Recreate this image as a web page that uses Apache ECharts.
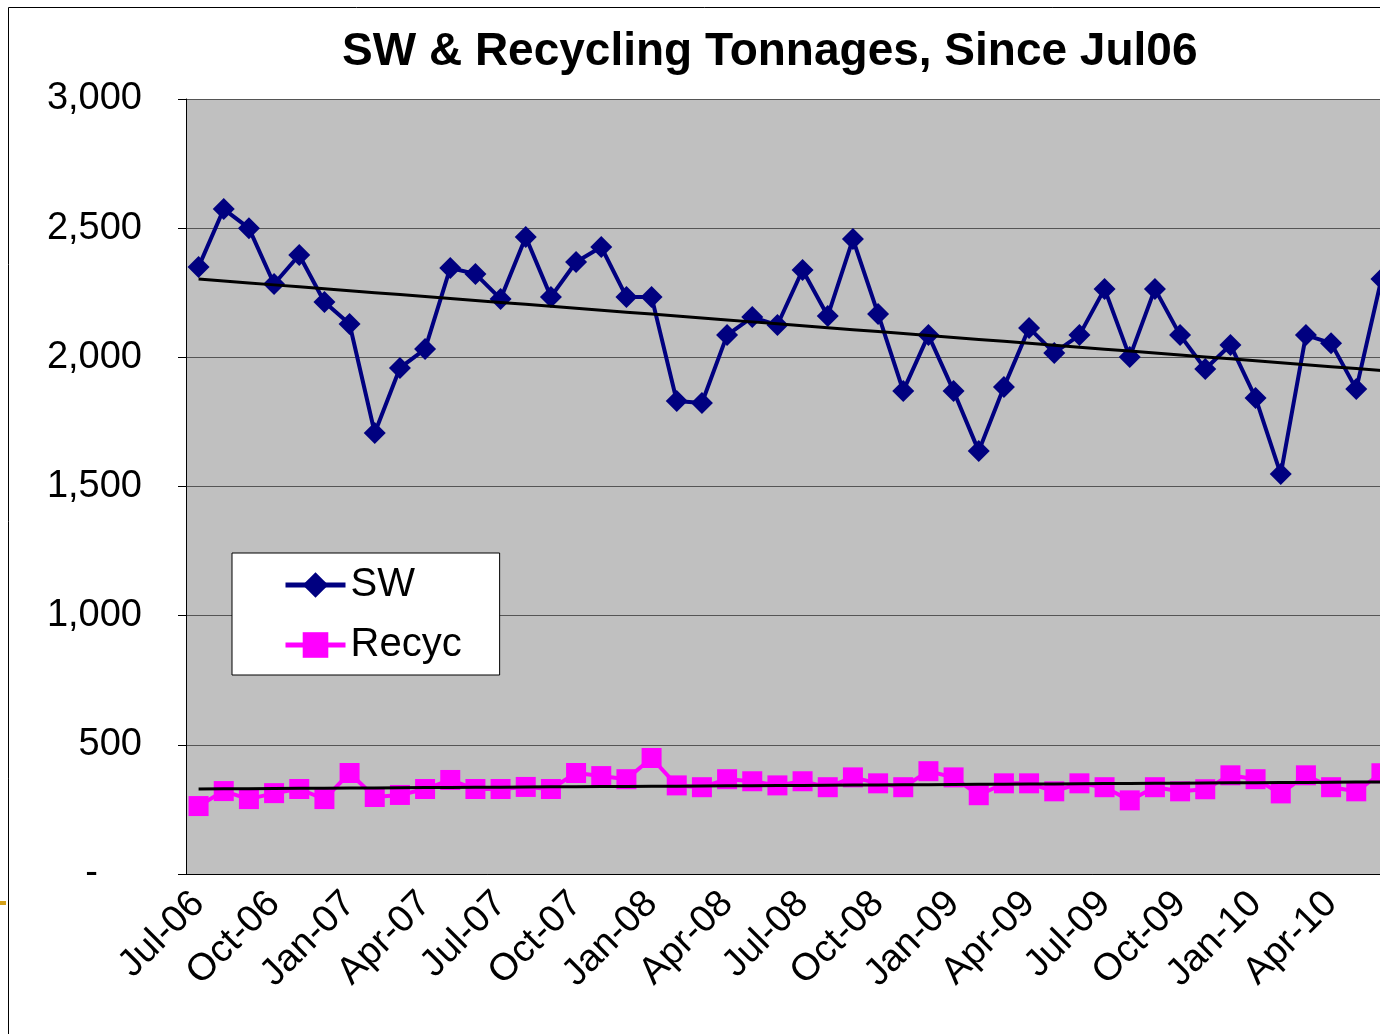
<!DOCTYPE html>
<html>
<head>
<meta charset="utf-8">
<script src="https://cdn.jsdelivr.net/npm/echarts@6/dist/echarts.min.js"></script>
<style>
html, body { margin: 0; padding: 0; overflow: hidden; background: #fff; }
#chart { width: 1400px; height: 1034px; }
</style>
</head>
<body>
<div id="chart"></div>
<script>
// months Jul-06 .. Jun-10
var months = [
    'Jul-06', 'Aug-06', 'Sep-06', 'Oct-06', 'Nov-06', 'Dec-06',
    'Jan-07', 'Feb-07', 'Mar-07', 'Apr-07', 'May-07', 'Jun-07',
    'Jul-07', 'Aug-07', 'Sep-07', 'Oct-07', 'Nov-07', 'Dec-07',
    'Jan-08', 'Feb-08', 'Mar-08', 'Apr-08', 'May-08', 'Jun-08',
    'Jul-08', 'Aug-08', 'Sep-08', 'Oct-08', 'Nov-08', 'Dec-08',
    'Jan-09', 'Feb-09', 'Mar-09', 'Apr-09', 'May-09', 'Jun-09',
    'Jul-09', 'Aug-09', 'Sep-09', 'Oct-09', 'Nov-09', 'Dec-09',
    'Jan-10', 'Feb-10', 'Mar-10', 'Apr-10', 'May-10', 'Jun-10'
];

var swTons = [
    2350, 2574, 2500, 2284, 2396, 2214, 2129, 1707, 1959, 2032, 2346, 2323,
    2226, 2466, 2234, 2369, 2427, 2234, 2234, 1831, 1823, 2086, 2156, 2125,
    2338, 2160, 2458, 2168, 1870, 2086, 1870, 1637, 1885, 2114, 2017, 2086,
    2265, 2001, 2265, 2086, 1955, 2048, 1843, 1548, 2086, 2055, 1877, 2303
];

var recycTons = [
    263, 321, 290, 313, 329, 290, 391, 298, 306, 329, 364, 329,
    329, 337, 329, 391, 379, 367, 449, 343, 336, 367, 359, 343,
    359, 336, 374, 351, 336, 398, 374, 305, 351, 351, 320, 351,
    336, 285, 336, 320, 328, 382, 367, 312, 382, 336, 320, 390
];

var yTicks = [0, 500, 1000, 1500, 2000, 2500, 3000];

// linear trend (least squares), like the excel trendline
function trend(arr) {
    var n = arr.length, sx = 0, sy = 0, sxy = 0, sxx = 0;
    for (var i = 0; i < n; i++) {
        sx += i; sy += arr[i]; sxy += i * arr[i]; sxx += i * i;
    }
    var b = (n * sxy - sx * sy) / (n * sxx - sx * sx);
    var a = (sy - b * sx) / n;
    return arr.map(function (v, i) { return a + b * i; });
}

var font = 'Liberation Sans, Arial, sans-serif';
var chart = echarts.init(document.getElementById('chart'));

chart.setOption({
    backgroundColor: '#fff',
    animation: false,
    title: {
        text: 'SW & Recycling Tonnages, Since Jul06',
        left: 337,
        top: 24,
        textStyle: { fontFamily: font, fontSize: 46, fontWeight: 'bold', color: '#000' }
    },
    graphic: [
        {
            type: 'rect',
            shape: { x: 8.5, y: 7.5, width: 1500, height: 1100 },
            style: { fill: 'none', stroke: '#000', lineWidth: 1 },
            silent: true
        },
        {
            type: 'rect',
            shape: { x: 0, y: 901, width: 6, height: 4 },
            style: { fill: '#d4a017' },
            silent: true
        }
    ],
    legend: {
        orient: 'vertical',
        left: 232,
        top: 553,
        data: ['SW', 'Recyc'],
        backgroundColor: '#fff',
        borderColor: '#000',
        borderWidth: 1,
        padding: [12, 38, 10, 51],
        itemWidth: 60,
        itemHeight: 32,
        itemGap: 20,
        lineStyle: { width: 5 },
        textStyle: { fontFamily: font, fontSize: 40, color: '#000', lineHeight: 40 }
    },
    grid: { left: 186, top: 99, right: 6, bottom: 160, show: true, backgroundColor: '#c0c0c0', borderWidth: 0 },
    xAxis: {
        type: 'category',
        data: months,
        boundaryGap: true,
        axisLine: { lineStyle: { color: '#000', width: 1 } },
        axisTick: { interval: 2, length: 8, lineStyle: { color: '#000' } },
        axisLabel: {
            interval: 2,
            rotate: 45,
            margin: 24,
            fontFamily: font,
            fontSize: 38,
            color: '#000'
        },
        splitLine: { show: false }
    },
    yAxis: {
        type: 'value',
        min: yTicks[0],
        max: yTicks[yTicks.length - 1],
        interval: 500,
        axisLine: { show: true, lineStyle: { color: '#000', width: 1 } },
        axisTick: { show: true, length: 8, lineStyle: { color: '#000' } },
        axisLabel: {
            margin: 44,
            fontFamily: font,
            fontSize: 38,
            color: '#000',
            formatter: function (v) {
                if (v === 0) return '{z|-}';
                return v.toLocaleString('en-US');
            },
            rich: {
                z: { fontFamily: font, fontSize: 38, color: '#000', padding: [0, 44, 0, 0] }
            }
        },
        splitLine: { lineStyle: { color: '#555', width: 1 } }
    },
    series: [
        {
            name: 'SW',
            type: 'line',
            data: swTons,
            symbol: 'diamond',
            symbolSize: 22,
            showAllSymbol: true,
            lineStyle: { color: '#000080', width: 4 },
            itemStyle: { color: '#000080' },
            z: 3
        },
        {
            name: 'Recyc',
            type: 'line',
            data: recycTons,
            symbol: 'rect',
            symbolSize: 20,
            showAllSymbol: true,
            lineStyle: { color: '#ff00ff', width: 4 },
            itemStyle: { color: '#ff00ff' },
            z: 3
        },
        {
            name: 'SW trend',
            type: 'line',
            data: trend(swTons),
            symbol: 'none',
            lineStyle: { color: '#000', width: 3 },
            z: 4
        },
        {
            name: 'Recyc trend',
            type: 'line',
            data: trend(recycTons),
            symbol: 'none',
            lineStyle: { color: '#000', width: 3 },
            z: 4
        }
    ]
});
</script>
</body>
</html>
